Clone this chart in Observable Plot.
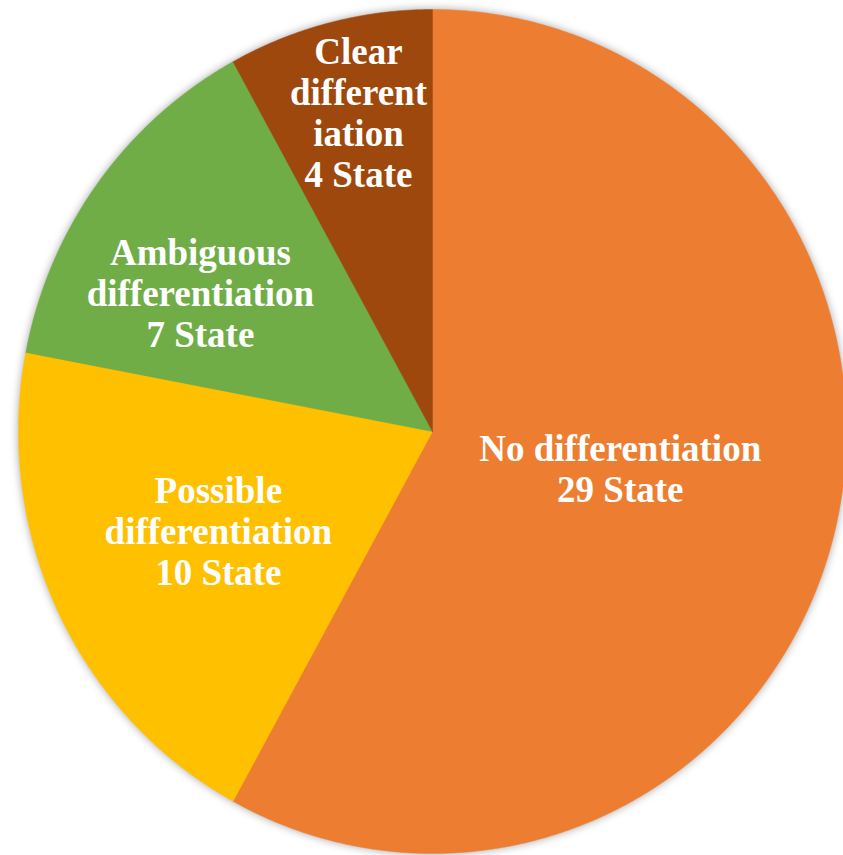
<!DOCTYPE html>
<html>
<head>
<meta charset="utf-8">
<script src="https://cdn.jsdelivr.net/npm/d3@7"></script>
<script src="https://cdn.jsdelivr.net/npm/@observablehq/plot@0.6"></script>
<style>
  html, body { margin: 0; padding: 0; background: #fff; }
  #chart svg g[aria-label="line"] { filter: drop-shadow(0 0 4px rgba(0,0,0,0.35)); }
</style>
</head>
<body>
<div id="chart"></div>
<script>
// ---- data ----
const categories = ["No differentiation", "Possible differentiation", "Ambiguous differentiation", "Clear differentiation"];
const values = [29, 10, 7, 4];
const labels = ["No differentiation\n29 State", "Possible\ndifferentiation\n10 State", "Ambiguous\ndifferentiation\n7 State", "Clear\ndifferent\niation\n4 State"];
const colors = ["#ED7D31", "#FFC000", "#70AD47", "#9E480E"];

// ---- layout (label placement: radius fraction, angle in degrees from top, clockwise) ----
const labelRadius = [0.462, 0.568, 0.650, 0.777];
const labelAngle = [101, 245.6, 300.4, 346.7];

const total = d3.sum(values);
const slices = [];
const labelRows = [];
let acc = 0;
categories.forEach((c, i) => {
  const a0 = acc / total * 2 * Math.PI;
  acc += values[i];
  const a1 = acc / total * 2 * Math.PI;
  const n = Math.max(2, Math.ceil((a1 - a0) / 0.005));
  slices.push({cat: c, x: 0, y: 0});
  for (let k = 0; k <= n; k++) {
    const a = a0 + (a1 - a0) * k / n;
    slices.push({cat: c, x: Math.sin(a), y: Math.cos(a)});
  }
  slices.push({cat: c, x: 0, y: 0});
  const la = labelAngle[i] * Math.PI / 180;
  labelRows.push({cat: c, text: labels[i], x: labelRadius[i] * Math.sin(la), y: labelRadius[i] * Math.cos(la)});
});

const chart = Plot.plot({
  width: 843,
  height: 855,
  margin: 0,
  x: {domain: [-1, 1], range: [18, 846], axis: null},
  y: {domain: [-1, 1], range: [853, 9], axis: null},
  color: {type: "ordinal", domain: categories, range: colors},
  marks: [
    Plot.line(slices, {x: "x", y: "y", z: "cat", fill: "cat", stroke: "cat", strokeWidth: 0.5, curve: "linear"}),
    Plot.text(labelRows, {
      x: "x", y: "y", text: "text",
      fill: "white",
      fontFamily: "'Liberation Serif', 'Times New Roman', serif",
      fontWeight: "bold",
      fontSize: 37,
      lineHeight: 1.11
    })
  ]
});
document.getElementById("chart").appendChild(chart);
</script>
</body>
</html>
